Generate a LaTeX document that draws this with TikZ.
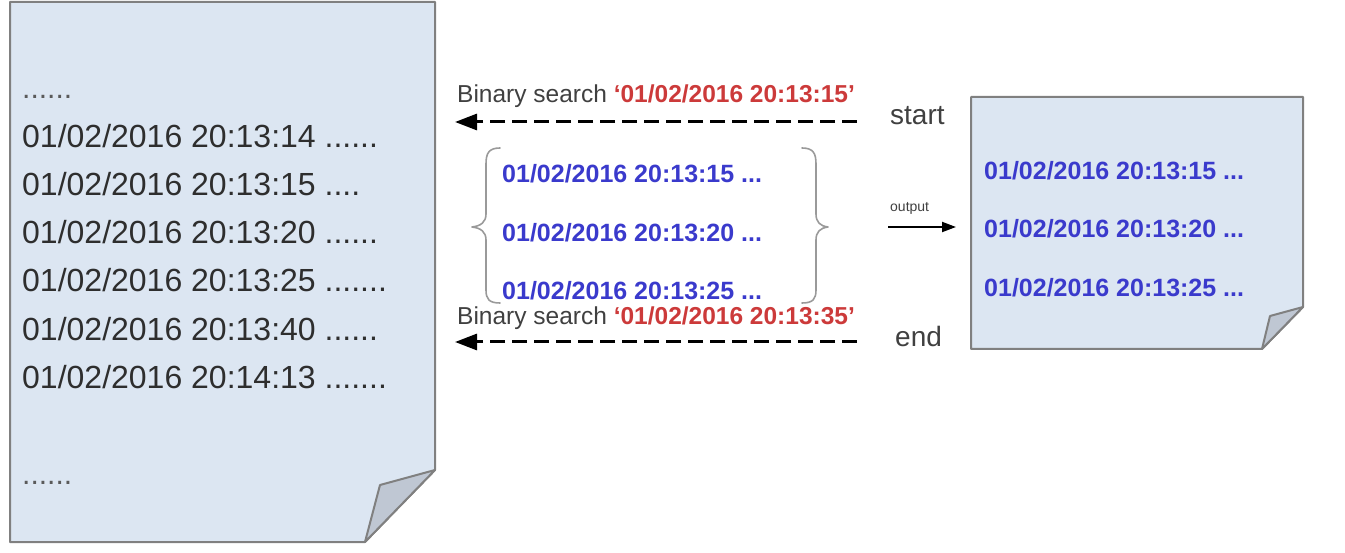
\documentclass[tikz,border=0pt]{standalone}
\usepackage{fontspec}
\setmainfont{Liberation Sans}
\usetikzlibrary{arrows.meta}
\definecolor{pagefill}{HTML}{DCE6F2}
\definecolor{pageline}{HTML}{808080}
\definecolor{foldfill}{HTML}{BFC7D3}
\definecolor{logtext}{HTML}{2E2E2E}
\definecolor{dotstext}{HTML}{5A5A5A}
\definecolor{bluetext}{HTML}{3A3ACC}
\definecolor{redtext}{HTML}{CC3A3A}
\definecolor{graytext}{HTML}{404040}
\definecolor{bracecol}{HTML}{9A9A9A}
\tikzset{
  pageshape/.style={draw=pageline, line width=2pt, fill=pagefill, line join=round},
  foldshape/.style={draw=pageline, line width=2pt, fill=foldfill, line join=round},
  logline/.style={anchor=base west, inner sep=0pt, text=logtext, font=\fontsize{32}{38}\selectfont},
  dotline/.style={anchor=base west, inner sep=0pt, text=dotstext, font=\fontsize{30}{36}\selectfont},
  hitline/.style={anchor=base west, inner sep=0pt, text=bluetext, font=\fontsize{25}{30}\selectfont\bfseries},
  searchlabel/.style={anchor=base west, inner sep=0pt, text=graytext, font=\fontsize{24.5}{30}\selectfont},
  endlabel/.style={anchor=base west, inner sep=0pt, text=graytext, font=\fontsize{28}{34}\selectfont},
  smalllabel/.style={anchor=base west, inner sep=0pt, text=graytext, font=\fontsize{14}{17}\selectfont},
  searcharrow/.style={line width=3pt, dash pattern=on 15pt off 7pt, -{Triangle[length=22pt,width=16pt]}},
  outarrow/.style={line width=2pt, -{Triangle[length=14pt,width=10pt]}},
  bracestroke/.style={draw=bracecol, line width=1.6pt, line cap=round, line join=round}
}
\begin{document}
\begin{tikzpicture}[x=1pt,y=-1pt]
\useasboundingbox (0,0) rectangle (1345,553);
% left page
\path[pageshape] (10,2) -- (435,2) -- (435,470) -- (365,542) -- (10,542) -- cycle;
\path[foldshape] (435,470) -- (380,485) -- (365,542) -- cycle;
\node[dotline] (l0) at (22,99) {......};
\node[logline] (l1) at (22,148) {01/02/2016 20:13:14 ......};
\node[logline] (l2) at (22,196) {01/02/2016 20:13:15 ....};
\node[logline] (l3) at (22,244) {01/02/2016 20:13:20 ......};
\node[logline] (l4) at (22,292) {01/02/2016 20:13:25 .......};
\node[logline] (l5) at (22,341) {01/02/2016 20:13:40 ......};
\node[logline] (l6) at (22,389) {01/02/2016 20:14:13 .......};
\node[dotline] (l7) at (22,484) {......};
% right page
\path[pageshape] (971,97) -- (1303,97) -- (1303,307) -- (1262,349) -- (971,349) -- cycle;
\path[foldshape] (1303,307) -- (1270,316) -- (1262,349) -- cycle;
\node[hitline] (r1) at (984,180) {01/02/2016 20:13:15 ...};
\node[hitline] (r2) at (984,238) {01/02/2016 20:13:20 ...};
\node[hitline] (r3) at (984,297) {01/02/2016 20:13:25 ...};
% middle results
\node[hitline] (m1) at (502,183) {01/02/2016 20:13:15 ...};
\node[hitline] (m2) at (502,242) {01/02/2016 20:13:20 ...};
\node[hitline] (m3) at (502,300) {01/02/2016 20:13:25 ...};
% braces
\draw[bracestroke] (500,148) .. controls (489,148) and (486,153) .. (486,164) -- (486,214)
  .. controls (486,222) and (481,226) .. (472,227)
  .. controls (481,228) and (486,232) .. (486,240) -- (486,290)
  .. controls (486,299) and (489,303) .. (500,303);
\draw[bracestroke] (802,148) .. controls (813,148) and (816,153) .. (816,164) -- (816,214)
  .. controls (816,222) and (820,226) .. (828,227)
  .. controls (820,228) and (816,232) .. (816,240) -- (816,290)
  .. controls (816,299) and (813,303) .. (802,303);
% search labels
\node[searchlabel] (s1) at (457,103) {Binary search \textcolor{redtext}{\bfseries `01/02/2016 20:13:15'}};
\node[searchlabel] (s2) at (457,325) {Binary search \textcolor{redtext}{\bfseries `01/02/2016 20:13:35'}};
\node[endlabel] (start) at (890,125) {start};
\node[endlabel] (end) at (895,347) {end};
\node[smalllabel] (out) at (890,212) {output};
% arrows
\coordinate (a1s) at (857,122);
\coordinate (a1e) at (455,122);
\coordinate (a2s) at (857,342);
\coordinate (a2e) at (455,342);
\coordinate (o1) at (888,227);
\coordinate (o2) at (956,227);
\draw[searcharrow] (a1s) -- (a1e);
\draw[searcharrow] (a2s) -- (a2e);
\draw[outarrow] (o1) -- (o2);
\end{tikzpicture}
\end{document}
